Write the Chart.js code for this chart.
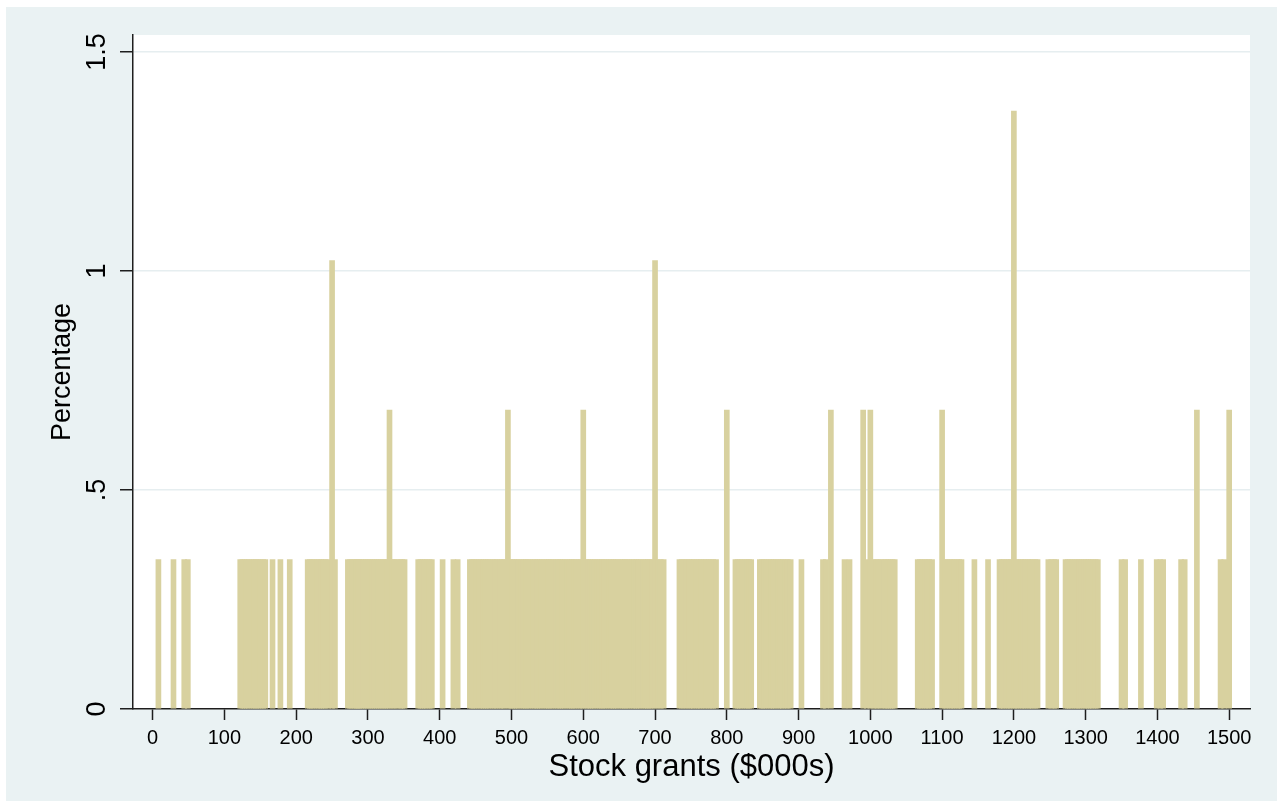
<!DOCTYPE html>
<html>
<head>
<meta charset="utf-8">
<script src="https://cdn.jsdelivr.net/npm/chart.js@4.4.1/dist/chart.umd.min.js"></script>
<style>
  html, body { margin: 0; padding: 0; background: #ffffff; }
  #wrap { width: 1282px; height: 807px; position: relative; }
  canvas { display: block; }
</style>
</head>
<body>
<div id="wrap"><canvas id="chart" width="1282" height="807"></canvas></div>
<script>
// Stock grants ($000s): each distinct grant value observed (one firm each unless listed below)
const grantValues = [
  8, 29, 44, 49,
  122, 125, 128, 131, 134, 138, 141, 144, 147, 150, 154, 157,
  167, 178, 191,
  216, 219, 222, 225, 229, 232, 235, 238, 241, 245, 250, 254,
  272, 275, 278, 281, 284, 286, 288, 291, 294, 297, 300, 303, 306, 309, 312, 315, 318, 321, 324, 327, 330, 334, 337, 341, 345, 348, 351,
  370, 373, 376, 379, 382, 386, 389,
  404, 419, 425,
  442, 445, 448, 451, 455, 458, 461, 464, 467, 470, 474, 477, 480, 484, 487, 490, 495, 498, 501, 504,
  507, 510, 514, 517, 520, 523, 526, 530, 533, 536, 539, 542, 546, 549, 552, 555, 558, 562, 565, 568,
  571, 574, 578, 581, 584, 587, 590, 594, 597, 600, 604, 607, 610, 613, 616, 620, 623, 626, 629, 632,
  636, 639, 642, 645, 648, 652, 655, 658, 661, 664, 668, 671, 674, 677, 680, 684, 687, 690, 693, 696,
  700, 704, 708, 712,
  734, 737, 741, 744, 748, 751, 754, 758, 761, 764, 768, 771, 775, 778, 781, 785,
  800,
  812, 815, 818, 821, 825, 828, 831, 834,
  846, 849, 852, 855, 859, 862, 865, 868, 872, 875, 878, 882, 885, 889,
  904,
  934, 938, 945,
  964, 971,
  990, 995, 1000, 1004, 1008, 1011, 1015, 1019, 1022, 1025, 1028, 1031, 1034,
  1066, 1069, 1072, 1076, 1079, 1082, 1086,
  1100, 1104, 1107, 1111, 1114, 1117, 1121, 1124, 1127,
  1145, 1164,
  1180, 1183, 1186, 1190, 1193, 1196, 1200, 1203, 1206, 1210, 1213, 1216, 1220, 1223, 1226, 1230, 1233,
  1248, 1252, 1256, 1259,
  1272, 1275, 1278, 1281, 1285, 1288, 1291, 1294, 1298, 1301, 1304, 1307, 1310, 1314, 1317,
  1350, 1355, 1377, 1399, 1404, 1408, 1433, 1438, 1455, 1488, 1493, 1500
];

// Grant values shared by more than one firm
const repeatedValues = [250, 330, 495, 600, 700, 800, 945, 990, 1000, 1100, 1200, 1455, 1500];
const repeatedCounts = [3, 2, 2, 2, 3, 2, 2, 2, 2, 2, 4, 2, 2];

// Axis ticks and titles
const xTickValues = [0, 100, 200, 300, 400, 500, 600, 700, 800, 900, 1000, 1100, 1200, 1300, 1400, 1500];
const yTickValues = [0, 0.5, 1, 1.5];
const yTickLabels = ['0', '.5', '1', '1.5'];
const xTitle = 'Stock grants ($000s)';
const yTitle = 'Percentage';

const FONT = '"Liberation Sans", Arial, Helvetica, sans-serif';
const BAR_COLOR = '#d8d19f';
const PANEL_COLOR = '#eaf2f3';
const GRID_COLOR = '#e6eef0';
const AXIS_COLOR = '#1e1e1e';

// Firms per value, then share of all firms in percent
const counts = grantValues.map(v => {
  const i = repeatedValues.indexOf(v);
  return i >= 0 ? repeatedCounts[i] : 1;
});
const totalFirms = counts.reduce((a, b) => a + b, 0);
const points = grantValues.map((v, i) => ({ x: v, y: counts[i] / totalFirms * 100 }));

// Graph region fill, white plot region, rotated y tick labels
const framePlugin = {
  id: 'frame',
  beforeDraw(chart) {
    const { ctx, chartArea: a } = chart;
    ctx.save();
    ctx.fillStyle = '#ffffff';
    ctx.fillRect(0, 0, chart.width, chart.height);
    ctx.fillStyle = PANEL_COLOR;
    ctx.fillRect(6, 7, 1271, 794);
    ctx.fillStyle = '#ffffff';
    ctx.fillRect(a.left, a.top, a.right - a.left, a.bottom - a.top);
    ctx.restore();
  },
  afterDraw(chart) {
    const { ctx } = chart;
    const y = chart.scales.y;
    ctx.save();
    ctx.fillStyle = '#000000';
    ctx.font = '27px ' + FONT;
    ctx.textAlign = 'center';
    ctx.textBaseline = 'middle';
    yTickValues.forEach((v, i) => {
      const py = y.getPixelForValue(v);
      ctx.save();
      ctx.translate(98, py);
      ctx.rotate(-Math.PI / 2);
      ctx.fillText(yTickLabels[i], 0, 0);
      ctx.restore();
    });
    ctx.restore();
  }
};

new Chart(document.getElementById('chart'), {
  type: 'bar',
  data: {
    datasets: [{
      data: points,
      backgroundColor: BAR_COLOR,
      borderWidth: 0,
      barThickness: 5
    }]
  },
  options: {
    responsive: false,
    animation: false,
    events: [],
    layout: { padding: { top: 35, right: 32, left: 0, bottom: 0 } },
    plugins: {
      legend: { display: false },
      tooltip: { enabled: false }
    },
    scales: {
      x: {
        type: 'linear',
        offset: false,
        min: -27.4,
        max: 1529,
        afterBuildTicks: s => { s.ticks = xTickValues.map(v => ({ value: v })); },
        afterFit: s => { s.height = 98; },
        ticks: {
          autoSkip: false,
          maxRotation: 0,
          minRotation: 0,
          padding: 6,
          color: '#000000',
          font: { family: FONT, size: 20 },
          callback: v => String(v)
        },
        grid: {
          offset: false,
          drawOnChartArea: false,
          drawTicks: true,
          tickLength: 11,
          tickColor: AXIS_COLOR,
          tickWidth: 1.5
        },
        border: { display: true, color: AXIS_COLOR, width: 1.5 },
        title: {
          display: true,
          text: xTitle,
          color: '#000000',
          font: { family: FONT, size: 31 },
          padding: { top: 0, bottom: 21 }
        }
      },
      y: {
        type: 'linear',
        min: 0,
        max: 1.539,
        afterBuildTicks: s => { s.ticks = yTickValues.map(v => ({ value: v })); },
        afterFit: s => { s.width = 133; },
        ticks: { display: false },
        grid: {
          color: c => (c.tick && c.tick.value === 0) ? 'rgba(0,0,0,0)' : GRID_COLOR,
          lineWidth: 1.5,
          drawTicks: true,
          tickLength: 13,
          tickColor: AXIS_COLOR,
          tickWidth: 1.5
        },
        border: { display: true, color: AXIS_COLOR, width: 1.5 },
        title: {
          display: true,
          text: yTitle,
          color: '#000000',
          font: { family: FONT, size: 27 },
          padding: { top: 46, bottom: 0 }
        }
      }
    }
  },
  plugins: [framePlugin]
});
</script>
</body>
</html>
